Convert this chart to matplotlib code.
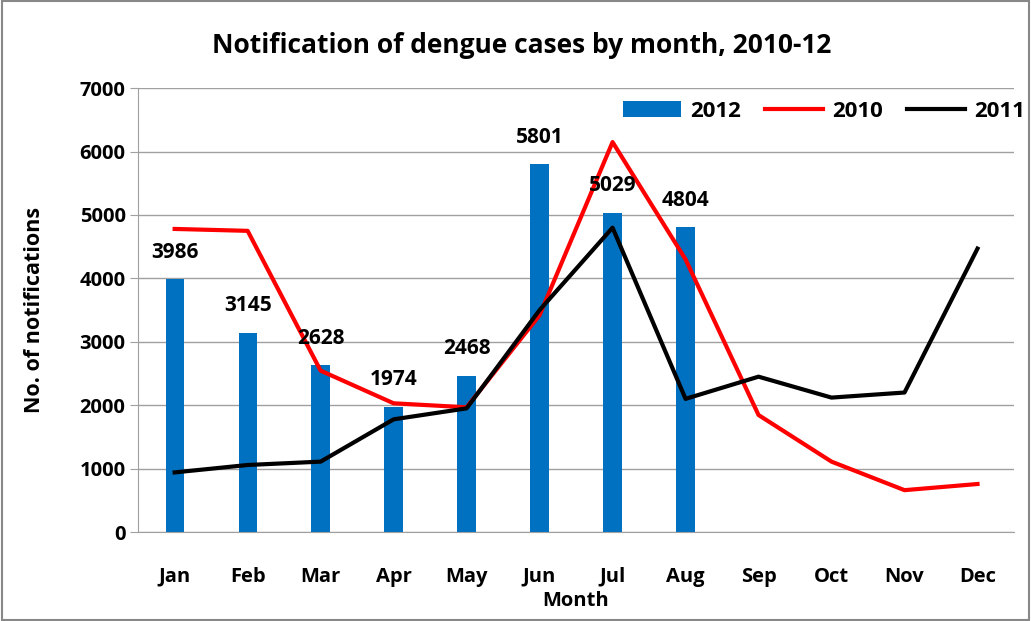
import matplotlib as mpl
mpl.use('Agg')

import numpy as np
import matplotlib.pyplot as plt

months = ["Jan", "Feb", "Mar", "Apr", "May", "Jun", "Jul", "Aug", "Sep", "Oct", "Nov", "Dec"]
cases_2012 = [3986, 3145, 2628, 1974, 2468, 5801, 5029, 4804]
cases_2010 = [4780, 4750, 2545, 2030, 1967, 3420, 6150, 4300, 1845, 1110, 660, 757]
cases_2011 = [940, 1057, 1110, 1777, 1950, 3500, 4800, 2100, 2450, 2120, 2200, 4470]

plt.rcParams['font.family'] = ['Open Sans', 'DejaVu Sans']
plt.rcParams['font.weight'] = 'bold'

fig = plt.figure(figsize=(10.31, 6.21), dpi=100)
ax = fig.add_axes([0.134, 0.1433, 0.8495, 0.7147])

x = np.arange(len(months))
xb = np.arange(len(cases_2012))
bars = ax.bar(xb, cases_2012, width=0.25, color="#0070C0", label="2012", zorder=2)
l1, = ax.plot(x, cases_2010, color="#FF0000", lw=3, label="2010", zorder=3)
l2, = ax.plot(x, cases_2011, color="black", lw=3, label="2011", zorder=3)

for xi, v in zip(xb, cases_2012):
    ax.annotate(str(v), (xi, v), xytext=(0, 12), textcoords="offset points",
                ha="center", va="bottom", fontsize=15, fontweight="bold")

ax.set_xlim(-0.5, 11.5)
ax.set_ylim(0, 7000)
ax.set_yticks(np.arange(0, 7001, 1000))
ax.set_xticks(x)
ax.set_xticklabels(months)
ax.tick_params(axis="x", length=0, labelsize=14.5, pad=25)
ax.tick_params(axis="y", length=6, color="#A0A0A0", labelsize=14.5, pad=3)
ax.yaxis.grid(True, color="#A0A0A0", lw=1)
ax.set_axisbelow(True)
for s in ["top", "right"]:
    ax.spines[s].set_visible(False)
ax.spines["left"].set_color("#A0A0A0")
ax.spines["bottom"].set_color("#A0A0A0")

fig.text(0.506, 0.927, "Notification of dengue cases by month, 2010-12", fontsize=19,
         fontweight="bold", ha="center", va="center")
ax.set_ylabel("No. of notifications", fontsize=15.5, fontweight="bold", labelpad=25)
ax.set_xlabel("Month", fontsize=14.5, fontweight="bold", labelpad=3)

ax.legend([bars, l1, l2], ["2012", "2010", "2011"], loc="upper right",
          bbox_to_anchor=(1.035, 1.017), ncol=3, frameon=False,
          fontsize=16, handlelength=2.6, columnspacing=1.1, handletextpad=0.4)

fig.patches.append(plt.Rectangle((0.002, 0.002), 0.996, 0.996, transform=fig.transFigure,
                                 fill=False, edgecolor="#888888", lw=1.5))
plt.savefig("out.png", dpi=100)
